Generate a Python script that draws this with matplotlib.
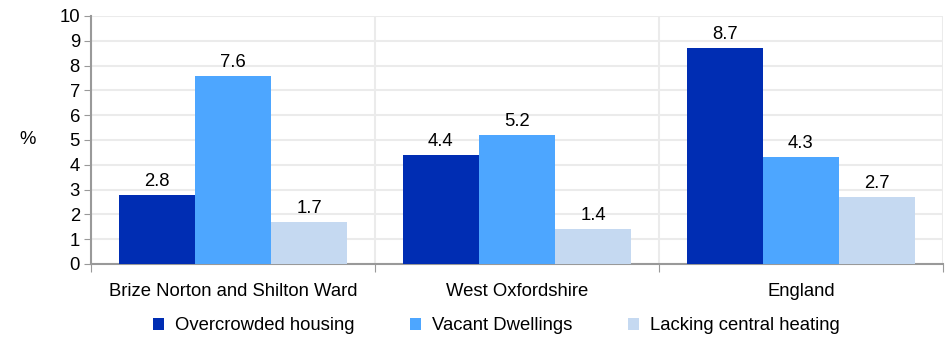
import numpy as np
import matplotlib
matplotlib.use('Agg')
import matplotlib.pyplot as plt

plt.rcParams['font.family'] = ['Liberation Sans', 'DejaVu Sans']

areas = ['Brize Norton and Shilton Ward', 'West Oxfordshire', 'England']
series = ['Overcrowded housing', 'Vacant Dwellings', 'Lacking central heating']
overcrowded = [2.8, 4.4, 8.7]
vacant = [7.6, 5.2, 4.3]
no_heating = [1.7, 1.4, 2.7]
colors = ['#002DB3', '#4DA6FF', '#C5D9F1']

fs = 13.3
fig = plt.figure(figsize=(9.49, 3.38), dpi=100)
ax = fig.add_axes([91 / 949, 1 - 264 / 338, 852 / 949, 248 / 338])

x = np.arange(len(areas))
width = 0.268
for i, (vals, name, c) in enumerate(zip([overcrowded, vacant, no_heating], series, colors)):
    bars = ax.bar(x + (i - 1) * width, vals, width, color=c, label=name, zorder=3)
    for b, v in zip(bars, vals):
        ax.text(b.get_x() + b.get_width() / 2, v + 0.2, f'{v:.1f}',
                ha='center', va='bottom', fontsize=fs)

ax.set_xlim(-0.5, 2.5)
ax.set_ylim(0, 10)
ax.set_yticks(range(0, 11))
ax.tick_params(axis='y', labelsize=fs, length=5, color='#999999', pad=3)

# category boundaries as ticks, names in between
ax.set_xticks([-0.5, 0.5, 1.5, 2.5])
ax.set_xticklabels([])
ax.set_xticks(x, minor=True)
ax.set_xticklabels(areas, minor=True, fontsize=fs)
ax.tick_params(axis='x', which='major', length=6, color='#999999')
ax.tick_params(axis='x', which='minor', length=0, pad=14)

ax.grid(True, which='major', color='#EBEBEB', linewidth=1.5, zorder=0)
for s in ['top', 'right']:
    ax.spines[s].set_visible(False)
for s in ['left', 'bottom']:
    ax.spines[s].set_color('#999999')
    ax.spines[s].set_linewidth(1.5)

fig.text(28 / 949, 1 - 140 / 338, '%', fontsize=fs, ha='center', va='center')

fig.legend(loc='center', bbox_to_anchor=(496 / 949, 1 - 326 / 338), ncol=3, frameon=False,
           fontsize=fs, handlelength=0.6, handleheight=0.6, columnspacing=3.0,
           handletextpad=0.6, borderpad=0)

fig.savefig('out.png', dpi=100)
